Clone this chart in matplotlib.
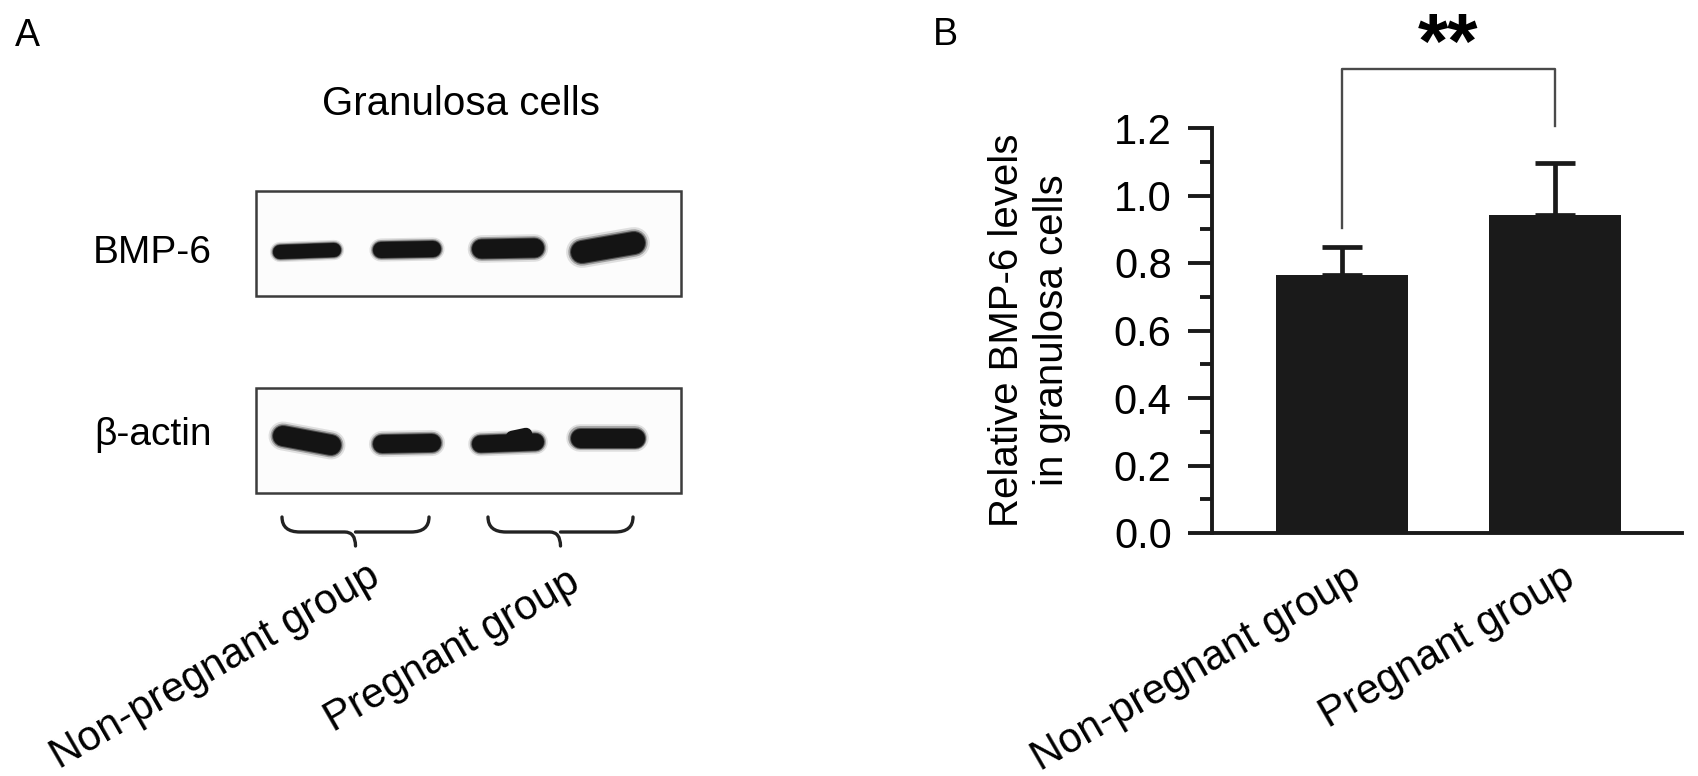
import matplotlib
matplotlib.use("Agg")
import matplotlib.pyplot as plt
import numpy as np
from matplotlib.path import Path
from matplotlib.patches import PathPatch, Rectangle
from matplotlib.transforms import ScaledTranslation

plt.rcParams['font.family'] = ['Liberation Sans', 'DejaVu Sans']

# ---- data ----
groups = ['Non-pregnant group', 'Pregnant group']
means = [0.764, 0.942]
sems = [0.084, 0.155]

# western blot bands (4 lanes: 2 non-pregnant, 2 pregnant), figure pixels
lane_left = [273, 373, 472, 571]
lane_right = [341, 441, 544, 645]
bmp6_y_left = [252, 250, 249, 252]
bmp6_y_right = [250, 249, 248, 243]
bmp6_thick = [14, 16, 19, 22]
actin_y_left = [436, 444, 444, 438]
actin_y_right = [445, 443, 442, 438]
actin_thick = [20, 18, 17, 19]

W, H = 1698, 776
fig = plt.figure(figsize=(W / 100, H / 100), dpi=100)

# ---- panel A : drawn in pixel coordinates ----
axA = fig.add_axes([0, 0, 1, 1])
axA.set_xlim(0, W)
axA.set_ylim(H, 0)
axA.axis('off')

ink = '#141414'


def band(x0, x1, y0, y1, t):
    # blurred blot band: stacked round strokes
    for k, a in [(1.45, 0.12), (1.25, 0.3), (1.1, 0.6), (1.0, 1.0)]:
        lw = t * k
        axA.plot([x0 + t / 2, x1 - t / 2], [y0, y1], color=ink, alpha=a,
                 lw=lw * 0.72, solid_capstyle='round')


for (top, bot) in [(191, 296), (388, 493)]:
    axA.add_patch(Rectangle((256, top), 425, bot - top, fill=True,
                            facecolor='#fcfcfc', edgecolor='#3c3c3c', lw=1.8))

for i in range(4):
    band(lane_left[i], lane_right[i], bmp6_y_left[i], bmp6_y_right[i], bmp6_thick[i])
    band(lane_left[i], lane_right[i], actin_y_left[i], actin_y_right[i], actin_thick[i])
# small bump on lane 3 actin band
axA.plot([512, 526], [437, 434], color=ink, lw=9, solid_capstyle='round')

axA.text(27, 36, 'A', fontsize=27, ha='center', va='center')
axA.text(461, 104, 'Granulosa cells', fontsize=29, ha='center', va='center')
axA.text(212, 253, 'BMP-6', fontsize=28, ha='right', va='center')
axA.text(212, 435, 'β-actin', fontsize=28, ha='right', va='center')


def brace(x0, x1, ytop, ymid, ytip):
    xm = (x0 + x1) / 2
    r = 18
    verts = [(x0, ytop), (x0, ymid), (x0 + r, ymid),
             (xm - r * 0.6, ymid), (xm, ymid), (xm, ytip),
             (xm, ymid), (xm + r * 0.6, ymid),
             (x1 - r, ymid), (x1, ymid), (x1, ytop)]
    codes = [Path.MOVETO, Path.CURVE3, Path.CURVE3,
             Path.LINETO, Path.CURVE3, Path.CURVE3,
             Path.MOVETO, Path.CURVE3,
             Path.LINETO, Path.CURVE3, Path.CURVE3]
    axA.add_patch(PathPatch(Path(verts, codes), fill=False, edgecolor='#222222',
                            lw=2.4, capstyle='round'))


brace(282, 429, 517, 532, 546)
brace(488, 633, 517, 532, 546)
axA.text(367, 556, groups[0], fontsize=30, rotation=30, ha='right', va='top',
         rotation_mode='anchor')
axA.text(567, 562, groups[1], fontsize=30, rotation=30, ha='right', va='top',
         rotation_mode='anchor')

axA.text(945, 35, 'B', fontsize=27, ha='center', va='center')

# ---- panel B : bar chart ----
ax = fig.add_axes([1212 / W, (H - 533) / H, 470 / W, 405 / H])
x = np.arange(len(groups))
ax.bar(x, means, width=0.617, color='#1a1a1a', zorder=2)
ax.errorbar(x, means, yerr=[np.zeros(len(sems)), sems], fmt='none',
            ecolor='#1a1a1a', elinewidth=3.4, capsize=14.5, capthick=3.4,
            zorder=1)
ax.set_xlim(-0.608, 1.594)
ax.set_ylim(0, 1.2)
ax.set_yticks(np.arange(0, 1.21, 0.2))
ax.set_yticks(np.arange(0.1, 1.2, 0.2), minor=True)
ax.set_yticklabels([f'{v:.1f}' for v in np.arange(0, 1.21, 0.2)])
ax.spines['top'].set_visible(False)
ax.spines['right'].set_visible(False)
for s in ['left', 'bottom']:
    ax.spines[s].set_linewidth(2.8)
    ax.spines[s].set_color('#1a1a1a')
ax.tick_params(axis='y', which='major', length=17, width=2.8, labelsize=30,
               pad=12, color='#1a1a1a')
ax.tick_params(axis='y', which='minor', length=9, width=2.8, color='#1a1a1a')
ax.set_xticks(x)
ax.set_xticklabels(groups, fontsize=30)
ax.tick_params(axis='x', length=0, pad=18)
offset = ScaledTranslation(0.06, 0, fig.dpi_scale_trans)
for lab in ax.get_xticklabels():
    lab.set_rotation(30)
    lab.set_ha('right')
    lab.set_va('top')
    lab.set_rotation_mode('anchor')
    lab.set_transform(lab.get_transform() + offset)

ax.set_ylabel('Relative BMP-6 levels\nin granulosa cells', fontsize=29,
              linespacing=1.25)
ax.yaxis.set_label_coords(-0.30, 0.5)

# significance bracket
ax.plot([0, 0, 1, 1], [0.905, 1.376, 1.376, 1.205], color='#4a4a4a', lw=1.7,
        clip_on=False)
ax.text(0.5, 1.44, '**', fontsize=56, fontweight='bold', ha='center',
        va='center', clip_on=False)

fig.savefig('out.png', dpi=100)
